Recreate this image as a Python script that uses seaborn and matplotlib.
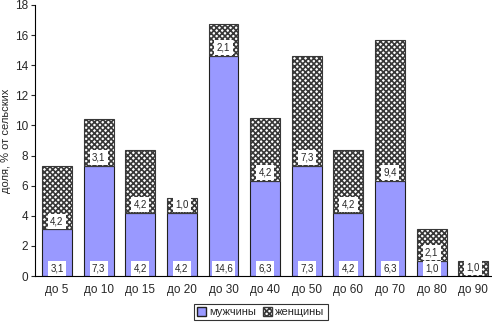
import seaborn as sns
import pandas as pd
import matplotlib.pyplot as plt
from matplotlib.patches import Patch

# age groups and shares (%)
groups = ["до 5", "до 10", "до 15", "до 20", "до 30", "до 40",
          "до 50", "до 60", "до 70", "до 80", "до 90"]
men = [3.1, 7.3, 4.2, 4.2, 14.6, 6.3, 7.3, 4.2, 6.3, 1.0, 0.0]
women = [4.2, 3.1, 4.2, 1.0, 2.1, 4.2, 7.3, 4.2, 9.4, 2.1, 1.0]

df = pd.DataFrame({"group": groups, "men": men, "women": women})

sns.set_style("white")
plt.rcParams["font.family"] = ["Liberation Sans", "DejaVu Sans"]
plt.rcParams["hatch.linewidth"] = 1.2

fig = plt.figure(figsize=(4.92, 3.26), dpi=100)
ax = fig.add_axes([0.071, 0.153, 0.929, 0.832])

# men (bottom part)
sns.barplot(data=df, x="group", y="men", color="#9999FF", saturation=1,
            width=0.72, edgecolor="#202020", linewidth=0.8, ax=ax)
n = len(groups)
# women stacked on top
sns.barplot(data=df, x="group", y="women", bottom=df["men"], color="white",
            saturation=1, width=0.72, edgecolor="#383838", linewidth=0.8,
            ax=ax)

for i, p in enumerate(ax.patches):
    if i >= n:
        p.set_hatch("xxxxxx")

# value labels at the bottom of each segment
box = dict(boxstyle="square,pad=0.25", fc="white", ec="none")
for i in range(n):
    if men[i] > 0:
        ax.text(i, 0.5, f"{men[i]:.1f}".replace(".", ","), ha="center", va="center",
                fontsize=7, bbox=box)
    ax.text(i, men[i] + 0.55, f"{women[i]:.1f}".replace(".", ","), ha="center",
            va="center", fontsize=7, bbox=box)

ax.set_ylim(0, 18)
ax.set_xlim(-0.53, 10.45)
ax.set_yticks(range(0, 19, 2))
ax.set_xlabel("")
ax.set_ylabel("доля, % от сельских", fontsize=8, labelpad=3)
ax.tick_params(axis="y", length=3, labelsize=8.5, left=True, direction="out", pad=2)
ax.tick_params(axis="x", length=0, labelsize=8.5, pad=6)
for s in ["top", "right"]:
    ax.spines[s].set_visible(False)
for s in ["left", "bottom"]:
    ax.spines[s].set_color("black")
    ax.spines[s].set_linewidth(0.8)

handles = [Patch(facecolor="#9999FF", edgecolor="#202020", label="мужчины"),
           Patch(facecolor="white", edgecolor="#383838", hatch="xxxxxx", label="женщины")]
leg = fig.legend(handles=handles, loc="lower center", bbox_to_anchor=(0.53, 0.0),
                 ncol=2, fontsize=8, frameon=True, fancybox=False, handlelength=0.8,
                 handleheight=0.8, handletextpad=0.3, columnspacing=0.6,
                 borderpad=0.3, edgecolor="black")
leg.get_frame().set_linewidth(0.8)

fig.savefig("out.png", dpi=100)
